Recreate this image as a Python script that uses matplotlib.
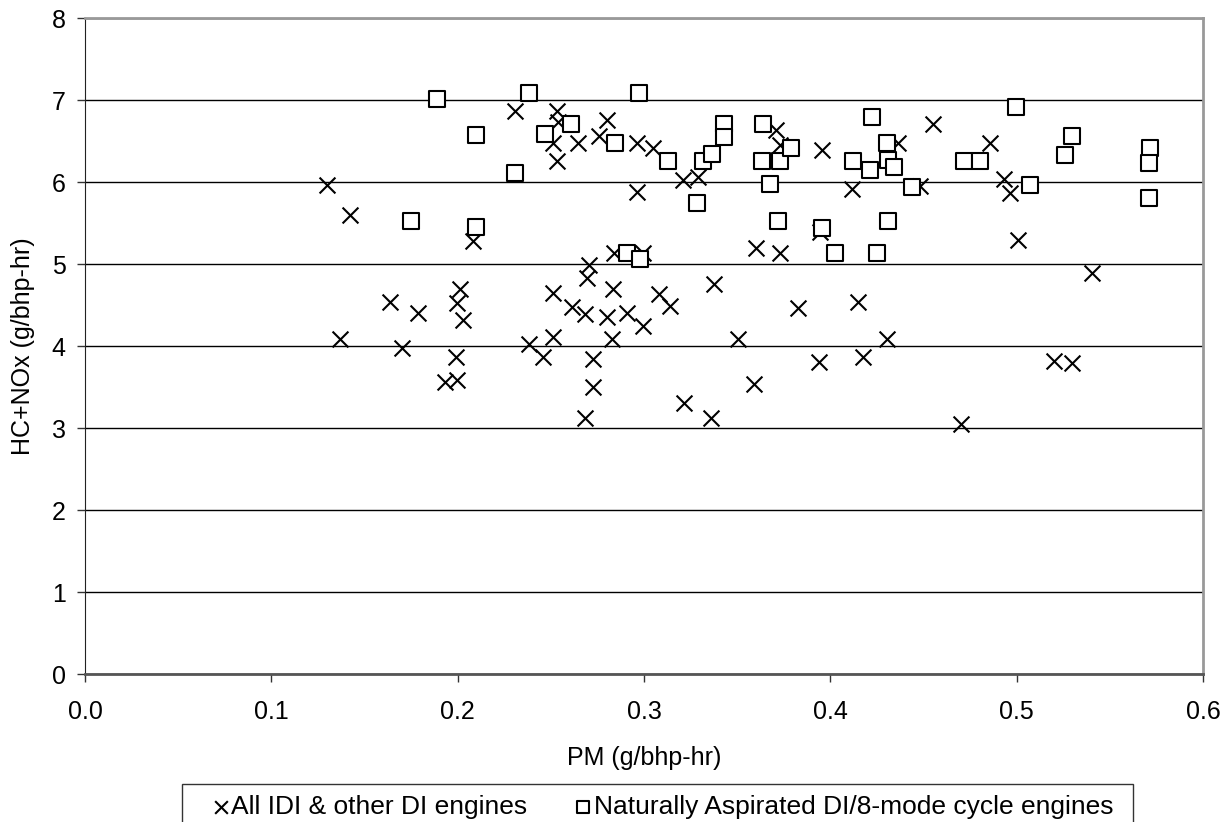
import matplotlib.pyplot as plt
import matplotlib.patches as mpatches
import numpy as np

plt.rcParams["font.family"] = ["Liberation Sans", "DejaVu Sans"]

# All IDI & other DI engines (x markers)
idi_pm = [
    0.1297, 0.1422, 0.1369, 0.2084, 0.2308, 0.2531, 0.2540, 0.2513, 0.2647, 0.2531,
    0.2799, 0.2758, 0.2705, 0.2696, 0.1637, 0.1789, 0.2013, 0.1995, 0.2027, 0.1700,
    0.1990, 0.1930, 0.1998, 0.2513, 0.2611, 0.2683, 0.2800, 0.2835, 0.2513, 0.2384,
    0.2460, 0.2826, 0.2728, 0.2728, 0.2683, 0.2907, 0.3082, 0.3140, 0.2996, 0.3378,
    0.3507, 0.3588, 0.3215, 0.3358, 0.3829, 0.3939, 0.4147, 0.4177, 0.4302, 0.5403,
    0.5200, 0.5295, 0.4700, 0.2960, 0.3046, 0.2960, 0.3211, 0.3292, 0.3706, 0.3729,
    0.3953, 0.4118, 0.4365, 0.2839, 0.2996, 0.3599, 0.3729, 0.3944, 0.4553, 0.4857,
    0.4932, 0.4966, 0.5005, 0.4481,
]
idi_hcnox = [
    5.96, 5.60, 4.09, 5.28, 6.86, 6.86, 6.73, 6.48, 6.48, 6.26,
    6.75, 6.56, 4.99, 4.83, 4.54, 4.40, 4.69, 4.52, 4.32, 3.97,
    3.87, 3.56, 3.59, 4.65, 4.47, 4.39, 4.35, 4.69, 4.11, 4.03,
    3.87, 4.09, 3.84, 3.50, 3.12, 4.40, 4.63, 4.49, 4.24, 4.76,
    4.09, 3.54, 3.30, 3.12, 4.46, 3.80, 4.54, 3.87, 4.09, 4.89,
    3.82, 3.79, 3.05, 6.47, 6.41, 5.88, 6.03, 6.06, 6.63, 6.45,
    6.39, 5.91, 6.48, 5.14, 5.14, 5.19, 5.14, 5.39, 6.71, 6.48,
    6.04, 5.86, 5.29, 5.95,
]

# Naturally Aspirated DI/8-mode cycle engines (square markers)
na_pm = [
    0.1890, 0.2385, 0.2099, 0.2469, 0.2607, 0.2844, 0.2308, 0.1749, 0.2096, 0.2975,
    0.3131, 0.3318, 0.3363, 0.3429, 0.3429, 0.3282, 0.3640, 0.3631, 0.3729, 0.3787,
    0.3676, 0.3720, 0.3953, 0.4025, 0.4249, 0.4222, 0.4123, 0.4213, 0.4302, 0.4311,
    0.4342, 0.4311, 0.4436, 0.2910, 0.2981, 0.4996, 0.5299, 0.5260, 0.4716, 0.4803,
    0.5072, 0.5716, 0.5710, 0.5710,
]
na_hcnox = [
    7.01, 7.08, 6.57, 6.59, 6.71, 6.48, 6.11, 5.52, 5.45, 7.08,
    6.26, 6.26, 6.34, 6.71, 6.55, 5.74, 6.71, 6.26, 6.26, 6.41,
    5.98, 5.52, 5.44, 5.14, 5.14, 6.79, 6.26, 6.15, 6.48, 6.27,
    6.18, 5.52, 5.94, 5.14, 5.06, 6.91, 6.56, 6.33, 6.26, 6.26,
    5.96, 6.41, 6.23, 5.81,
]

x_ticks = np.arange(0, 0.61, 0.1)
y_ticks = np.arange(0, 9, 1)
FS = 18
W, H = 1229, 822

fig = plt.figure(figsize=(W / 100, H / 100), dpi=100)
ax = fig.add_axes([85 / W, 1 - 674 / H, 1118 / W, 656 / H])

ax.scatter(idi_pm, idi_hcnox, marker="x", s=130, c="black", linewidths=1.5,
           zorder=3, label="All IDI & other DI engines")
ax.scatter(na_pm, na_hcnox, marker="s", s=135, facecolors="white",
           edgecolors="black", linewidths=1.5, zorder=4,
           label="Naturally Aspirated DI/8-mode cycle engines")

ax.set_xlim(0, 0.6)
ax.set_ylim(0, 8)
ax.set_xticks(x_ticks)
ax.set_xticklabels([f"{v:.1f}" for v in x_ticks])
ax.set_yticks(y_ticks)
ax.yaxis.grid(True, color="black", linewidth=1.0)
ax.set_axisbelow(True)
ax.tick_params(axis="both", labelsize=FS, direction="out", length=6,
               width=1, color="#333333")
ax.tick_params(axis="x", pad=13)
ax.tick_params(axis="y", pad=8)

ax.spines["left"].set_color("#222222")
ax.spines["bottom"].set_color("#555555")
ax.spines["bottom"].set_linewidth(2)
for side in ("right", "top"):
    ax.spines[side].set_color("#999999")
    ax.spines[side].set_linewidth(2)

ax.set_xlabel("PM (g/bhp-hr)", fontsize=FS)
ax.set_ylabel("HC+NOx (g/bhp-hr)", fontsize=FS)
ax.xaxis.set_label_coords(0.5, (674 - 746) / 656)
ax.yaxis.set_label_coords((35 - 85) / 1118, 0.5)

# legend entries, frame drawn separately (box is cut off by the figure edge)
leg = fig.legend(loc="center left",
                 bbox_to_anchor=(213 / W, 1 - 807 / H, 900 / W, 0),
                 mode="expand", ncol=2, fontsize=19, frameon=False,
                 handletextpad=0.1, markerscale=0.8, borderpad=0,
                 handlelength=0.6, borderaxespad=0)
fig.patches.append(mpatches.Rectangle(
    (182 / W, -0.02), 951 / W, 0.02 + 1 - 784 / H, transform=fig.transFigure,
    facecolor="none", edgecolor="#333333", linewidth=1))

fig.savefig("out.png", dpi=100)
